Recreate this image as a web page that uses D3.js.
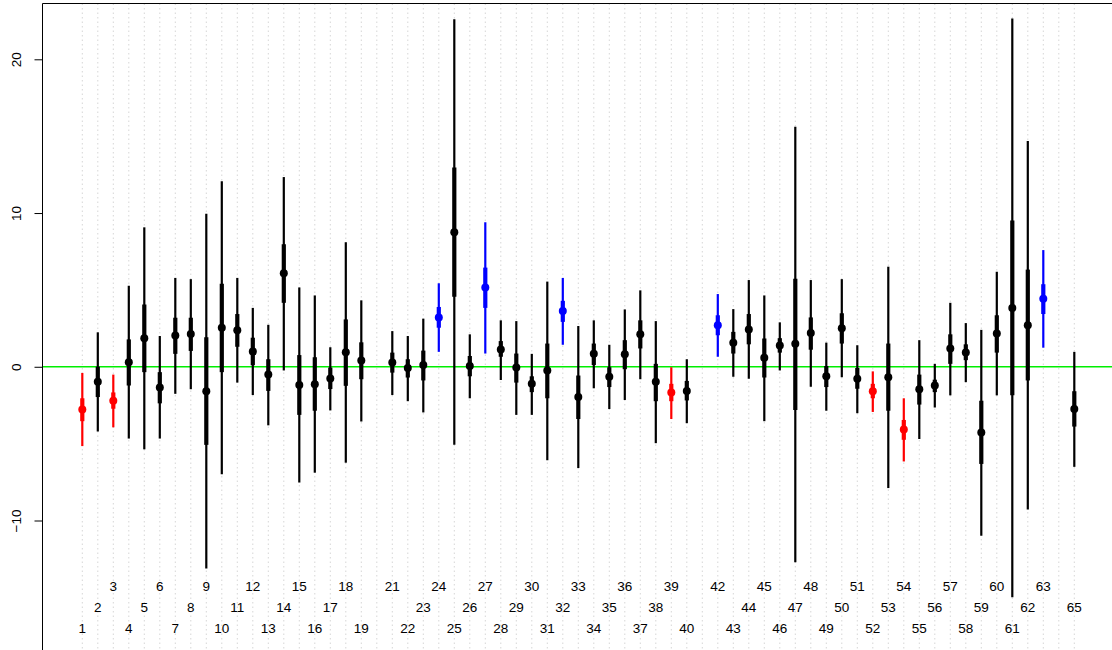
<!DOCTYPE html>
<html>
<head>
<meta charset="utf-8">
<script src="https://cdn.jsdelivr.net/npm/d3@7"></script>
<style>
  html, body { margin: 0; padding: 0; background: #fff; }
  svg { display: block; }
  text { font-family: "Liberation Sans", Arial, sans-serif; fill: #000; }
</style>
</head>
<body>
<div id="chart"></div>
<script>
// ---- data (null = no estimate for that slot) ----
const ids = d3.range(1, 66);
const est = [-2.78,-0.97,-2.21,0.30,1.86,-1.35,2.03,2.13,-1.59,2.54,2.38,1.00,-0.51,6.08,-1.19,-1.13,-0.76,0.95,0.41,null,
  0.27,-0.08,0.11,3.21,8.75,0.05,5.16,1.13,-0.05,-1.11,-0.24,3.62,-1.97,0.84,-0.65,0.81,2.11,-0.97,-1.67,-1.57,null,
  2.70,1.57,2.43,0.59,1.38,1.49,2.19,-0.62,2.51,-0.78,-1.59,-0.68,-4.08,-1.46,-1.22,1.19,0.92,-4.27,2.16,3.83,2.70,4.43,null,-2.75];
const lo95 = [-5.16,-4.21,-3.94,-4.67,-5.37,-4.67,-1.76,-1.46,-13.12,-6.99,-1.03,-1.84,-3.81,-0.24,-7.53,-6.89,-2.84,-6.24,-3.56,null,
  -1.84,-2.24,-2.97,0.97,-5.08,-2.05,0.86,-0.86,-3.13,-3.13,-6.08,1.43,-6.59,-1.40,-2.75,-2.16,-0.81,-4.97,-3.40,-3.67,null,
  0.65,-0.65,-0.78,-3.54,-0.24,-12.72,-1.30,-2.86,-0.68,-3.02,-2.94,-7.89,-6.16,-4.70,-2.65,-1.86,-1.00,-10.99,-1.86,-15.0,-9.29,1.24,null,-6.51];
const hi95 = [-0.40,2.24,-0.51,5.27,9.07,2.00,5.78,5.70,9.96,12.07,5.78,3.83,2.73,12.34,5.16,4.64,1.27,8.10,4.32,null,
  2.32,2.00,3.13,5.43,22.60,2.11,9.40,3.02,2.97,0.84,5.54,5.78,2.65,3.02,1.43,3.73,4.97,2.97,-0.03,0.49,null,
  4.73,3.75,5.64,4.64,2.89,15.61,5.64,1.57,5.70,1.40,-0.30,6.51,-2.05,1.73,0.19,4.16,2.84,2.40,6.18,22.66,14.69,7.59,null,0.97];
const lo68 = [-3.54,-1.97,-2.73,-1.22,-0.35,-2.38,0.84,1.03,-5.08,-0.35,1.30,0.10,-1.57,4.16,-3.13,-2.86,-1.45,-1.24,-0.81,null,
  -0.38,-0.70,-0.89,2.54,4.56,-0.62,3.83,0.65,-1.03,-1.65,-2.05,2.92,-3.40,0.11,-1.32,-0.16,1.19,-2.24,-2.24,-2.19,null,
  2.05,0.86,1.46,-0.70,0.92,-2.81,1.11,-1.32,1.51,-1.43,-2.05,-2.86,-4.75,-2.46,-1.65,0.19,0.43,-6.32,0.92,-1.86,-0.89,3.43,null,-3.89];
const hi68 = [-2.05,0.00,-1.67,1.78,4.05,-0.35,3.19,3.19,1.92,5.40,3.43,1.89,0.49,7.97,0.76,0.62,-0.05,3.08,1.59,null,
  0.92,0.49,1.05,3.89,12.96,0.70,6.45,1.67,0.86,-0.62,1.51,4.29,-0.57,1.51,-0.03,1.73,3.02,0.19,-1.11,-0.92,null,
  3.35,2.27,3.43,1.84,1.86,5.73,3.21,0.05,3.48,-0.08,-1.11,1.51,-3.46,-0.51,-0.84,2.11,1.46,-2.21,3.35,9.51,6.32,5.37,null,-1.59];
// significance group: "neg" = below zero (red), "pos" = above zero (blue), "ns" = black
const groups = ["neg","ns","neg","ns","ns","ns","ns","ns","ns","ns","ns","ns","ns","ns","ns","ns","ns","ns","ns",null,
  "ns","ns","ns","pos","ns","ns","pos","ns","ns","ns","ns","pos","ns","ns","ns","ns","ns","ns","neg","ns",null,
  "pos","ns","ns","ns","ns","ns","ns","ns","ns","ns","neg","ns","neg","ns","ns","ns","ns","ns","ns","ns","ns","pos",null,"ns"];
const yTicks = [-10, 0, 10, 20];

const colorOf = { neg: "#ff0000", pos: "#0000ff", ns: "#000000" };

const W = 1112, H = 650;
const svg = d3.select("#chart").append("svg").attr("width", W).attr("height", H);

const x = d3.scaleLinear().domain([1, 65]).range([82.3, 1074.3]);
const y = d3.scaleLinear().domain([-10, 20]).range([520.5, 59.3]);
const axisX = 42.5, topY = 3.5;

const rows = ids.map((id, i) => ({ id, est: est[i], lo95: lo95[i], hi95: hi95[i], lo68: lo68[i], hi68: hi68[i], g: groups[i] }));
const data = rows.filter(d => d.est !== null);

// dotted vertical guides at each slot
svg.append("g").selectAll("line").data(ids).join("line")
  .attr("x1", d => x(d)).attr("x2", d => x(d))
  .attr("y1", topY).attr("y2", H)
  .attr("stroke", "#d6d6d6").attr("stroke-width", 1).attr("stroke-dasharray", "1.5,3");

// zero reference line
svg.append("line")
  .attr("x1", axisX).attr("x2", W).attr("y1", y(0)).attr("y2", y(0))
  .attr("stroke", "#00ee00").attr("stroke-width", 1.3);

// box: top border and left axis
svg.append("line").attr("x1", axisX).attr("x2", W).attr("y1", topY).attr("y2", topY)
  .attr("stroke", "#000").attr("stroke-width", 1);

const yAxis = d3.axisLeft(y).tickValues(yTicks).tickSize(8).tickFormat(d3.format("d"));
const gy = svg.append("g").attr("transform", `translate(${axisX},0)`).call(yAxis);
gy.select(".domain").remove();
gy.append("line").attr("x1", 0).attr("x2", 0).attr("y1", topY).attr("y2", H).attr("stroke", "#000").attr("stroke-width", 1);
gy.selectAll(".tick line").attr("stroke", "#000");
gy.selectAll(".tick text")
  .attr("transform", "rotate(-90)")
  .attr("x", 0).attr("y", -26).attr("dy", "0.35em")
  .attr("text-anchor", "middle")
  .style("font-size", "13.5px").style("font-family", "'Liberation Sans', Arial, sans-serif");

// 95% intervals (thin)
svg.append("g").selectAll("line").data(data).join("line")
  .attr("x1", d => x(d.id)).attr("x2", d => x(d.id))
  .attr("y1", d => y(d.lo95)).attr("y2", d => y(d.hi95))
  .attr("stroke", d => colorOf[d.g]).attr("stroke-width", 2.2);

// 68% intervals (thick)
svg.append("g").selectAll("line").data(data).join("line")
  .attr("x1", d => x(d.id)).attr("x2", d => x(d.id))
  .attr("y1", d => y(d.lo68)).attr("y2", d => y(d.hi68))
  .attr("stroke", d => colorOf[d.g]).attr("stroke-width", 4.2);

// point estimates
svg.append("g").selectAll("circle").data(data).join("circle")
  .attr("cx", d => x(d.id)).attr("cy", d => y(d.est)).attr("r", 4)
  .attr("fill", d => colorOf[d.g]);

// staggered category labels
const rowY = [586, 607.5, 628.5]; // row for id%3==0, ==2, ==1
svg.append("g").selectAll("text").data(data).join("text")
  .attr("x", d => x(d.id))
  .attr("y", d => rowY[d.id % 3 === 0 ? 0 : (d.id % 3 === 2 ? 1 : 2)])
  .attr("dy", "0.36em")
  .attr("text-anchor", "middle")
  .style("font-size", "13.5px")
  .text(d => d.id);
</script>
</body>
</html>
